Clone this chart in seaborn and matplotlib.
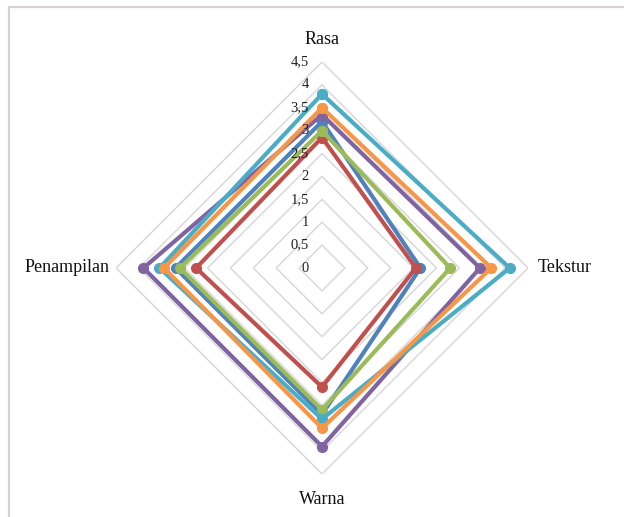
import numpy as np
import matplotlib
matplotlib.use("Agg")
import matplotlib.pyplot as plt
import matplotlib.transforms as mtransforms
import seaborn as sns

sns.set_theme(style="white")
plt.rcParams["font.family"] = ["Liberation Serif", "DejaVu Serif"]

# Sensory attributes (clockwise from the top) and mean panel scores
categories = ["Rasa", "Tekstur", "Warna", "Penampilan"]
series_names = ["P1", "P2", "P3", "P4", "P5", "P6"]
scores_p1 = [3.2, 2.15, 3.2, 3.2]
scores_p2 = [2.85, 2.05, 2.6, 2.75]
scores_p3 = [3.0, 2.8, 3.1, 3.1]
scores_p4 = [3.35, 3.45, 3.9, 3.9]
scores_p5 = [3.8, 4.1, 3.3, 3.55]
scores_p6 = [3.5, 3.7, 3.5, 3.45]
all_scores = [scores_p1, scores_p2, scores_p3, scores_p4, scores_p5, scores_p6]
scale_ticks = [0, 0.5, 1, 1.5, 2, 2.5, 3, 3.5, 4, 4.5]
scale_labels = ["0", "0,5", "1", "1,5", "2", "2,5", "3", "3,5", "4", "4,5"]

colors = ["#4F81BD", "#C0504D", "#9BBB59", "#8064A2", "#4BACC6", "#F79646"]

W, H = 624, 517
fig = plt.figure(figsize=(W / 100, H / 100), dpi=100)
fig.patch.set_facecolor("white")

# Chart frame (top and left edges)
fig.add_artist(plt.Line2D([8.5 / W, 1], [1 - 6.5 / H, 1 - 6.5 / H],
                          transform=fig.transFigure, color="#DCCFCF", lw=1.6))
fig.add_artist(plt.Line2D([8.5 / W, 8.5 / W], [0, 1 - 6.5 / H],
                          transform=fig.transFigure, color="#DCCFCF", lw=1.6))

cx, cy, R = 322, 268, 206
ax = fig.add_axes([(cx - R) / W, (H - cy - R) / H, 2 * R / W, 2 * R / H],
                  projection="polar")
ax.set_theta_offset(np.pi / 2)
ax.set_theta_direction(-1)
ax.set_ylim(0, 4.5)
ax.set_xticks([])
ax.set_yticks([])
ax.grid(False)
ax.spines["polar"].set_visible(False)
ax.patch.set_alpha(0)

n = len(categories)
angles = np.linspace(0, 2 * np.pi, n, endpoint=False)
closed = np.concatenate([angles, angles[:1]])

# Diamond gridlines
for t in scale_ticks[1:]:
    ax.plot(closed, [t] * (n + 1), color="#D9D9D9", lw=1.1, zorder=1)

# Data series
for name, vals, c in zip(series_names, all_scores, colors):
    v = list(vals) + [vals[0]]
    ax.plot(closed, v, color=c, lw=3.0, marker="o", markersize=7,
            solid_joinstyle="round", label=name, zorder=3)

# Scale labels along the top axis
for t, lab in zip(scale_ticks, scale_labels):
    off = mtransforms.ScaledTranslation(-13 / 100, 0, fig.dpi_scale_trans)
    ax.text(0, t, lab, transform=ax.transData + off, ha="right", va="center",
            fontsize=10.5, color="#222222", zorder=4)

# Category labels
offsets = [(0, 22, "center", "center"), (10, 0, "left", "center"),
           (0, -25, "center", "center"), (-6, 0, "right", "center")]
for ang, lab, (dx, dy, ha, va) in zip(angles, categories, offsets):
    off = mtransforms.ScaledTranslation(dx / 100, dy / 100, fig.dpi_scale_trans)
    ax.text(ang, 4.5, lab, transform=ax.transData + off, ha=ha, va=va,
            fontsize=13, color="#111111")

fig.savefig("out.png", dpi=100, facecolor="white")
